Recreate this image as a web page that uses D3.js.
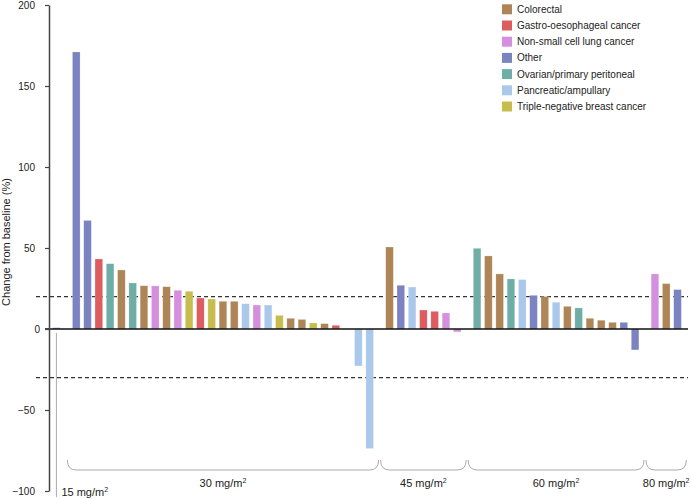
<!DOCTYPE html>
<html>
<head>
<meta charset="utf-8">
<script src="https://cdn.jsdelivr.net/npm/d3@7"></script>
<style>
  html, body { margin: 0; padding: 0; background: #fff; }
  svg { display: block; font-family: "Liberation Sans", Arial, Helvetica, sans-serif; }
</style>
</head>
<body>
<svg id="chart" width="691" height="499"></svg>
<script>
// ---------------- DATA ----------------
const categories = [
  "Colorectal",
  "Gastro-oesophageal cancer",
  "Non-small cell lung cancer",
  "Other",
  "Ovarian/primary peritoneal",
  "Pancreatic/ampullary",
  "Triple-negative breast cancer"
];
const categoryColors = ["#ae8556", "#dd5c5f", "#d48fdf", "#7b83c1", "#6faea7", "#aac9ea", "#c7bd4f"];

const doseLabels = ["15", "30", "45", "60", "80"];

const dose15Values = [0.8];
const dose15Cats   = ["Other"];

const dose30Values = [171, 67, 43.2, 40.3, 36.4, 28.4, 26.7, 26.6, 26.1, 23.9, 23.3, 19.1, 18.5, 17.1, 17.1, 15.6, 14.8, 14.8, 8.4, 6.6, 5.9, 3.7, 3.3, 2.3, 0, -22.8, -73.8];
const dose30Cats   = ["Other", "Other", "Gastro-oesophageal cancer", "Ovarian/primary peritoneal", "Colorectal",
  "Ovarian/primary peritoneal", "Colorectal", "Non-small cell lung cancer", "Colorectal", "Non-small cell lung cancer",
  "Triple-negative breast cancer", "Gastro-oesophageal cancer", "Triple-negative breast cancer", "Colorectal", "Colorectal",
  "Pancreatic/ampullary", "Non-small cell lung cancer", "Pancreatic/ampullary", "Triple-negative breast cancer", "Colorectal",
  "Colorectal", "Triple-negative breast cancer", "Colorectal", "Gastro-oesophageal cancer", "Other",
  "Pancreatic/ampullary", "Pancreatic/ampullary"];

const dose45Values = [50.6, 27, 25.9, 11.7, 10.9, 9.9, -1.8];
const dose45Cats   = ["Colorectal", "Other", "Pancreatic/ampullary", "Gastro-oesophageal cancer",
  "Gastro-oesophageal cancer", "Non-small cell lung cancer", "Non-small cell lung cancer"];

const dose60Values = [49.8, 45.1, 34, 30.9, 30.5, 20.8, 20, 16.5, 14, 13, 6.6, 5.4, 4.1, 4.1, -12.9];
const dose60Cats   = ["Ovarian/primary peritoneal", "Colorectal", "Colorectal", "Ovarian/primary peritoneal",
  "Pancreatic/ampullary", "Other", "Colorectal", "Pancreatic/ampullary", "Colorectal", "Ovarian/primary peritoneal",
  "Colorectal", "Colorectal", "Colorectal", "Other", "Other"];

const dose80Values = [34, 28, 24.3];
const dose80Cats   = ["Non-small cell lung cancer", "Colorectal", "Other"];

const yTicks = [-100, -50, 0, 50, 100, 150, 200];
const thresholdLines = [20, -30];
const yTitle = "Change from baseline (%)";

// ---------------- LAYOUT ----------------
const svg = d3.select("#chart");
const groupValues = [dose15Values, dose30Values, dose45Values, dose60Values, dose80Values];
const groupCats = [dose15Cats, dose30Cats, dose45Cats, dose60Cats, dose80Cats];

const slot = 11.285;       // px per bar slot
const gapExtra = 0.76;     // extra slots between dose groups
const x0 = 52.6;           // left of first bar
const barW = 7.6;

// build bar records
const bars = [];
let gi = 0;
groupValues.forEach((vals, g) => {
  vals.forEach((v, i) => {
    bars.push({ group: g, idx: i, pos: gi + g * gapExtra, value: v, cat: groupCats[g][i] });
    gi++;
  });
});
const maxPos = d3.max(bars, d => d.pos);

const x = d3.scaleLinear().domain([0, maxPos]).range([x0, x0 + maxPos * slot]);
const y = d3.scaleLinear().domain([-100, 200]).range([491, 5]);
const color = d3.scaleOrdinal().domain(categories).range(categoryColors);

const axisX = 49;
const lineEnd = 688;

// dashed threshold lines
svg.append("g").selectAll("line").data(thresholdLines).join("line")
  .attr("x1", 36).attr("x2", lineEnd)
  .attr("y1", d => y(d)).attr("y2", d => y(d))
  .attr("stroke", "#333").attr("stroke-width", 1.3)
  .attr("stroke-dasharray", "4,3");

// bars
svg.append("g").selectAll("rect").data(bars).join("rect")
  .attr("x", d => x(d.pos))
  .attr("width", barW)
  .attr("y", d => Math.min(y(d.value), y(0)))
  .attr("height", d => Math.abs(y(d.value) - y(0)))
  .attr("fill", d => color(d.cat))
  .attr("stroke", "#fff").attr("stroke-opacity", 0.35).attr("stroke-width", 0.6);

// zero line
svg.append("line")
  .attr("x1", 45).attr("x2", lineEnd)
  .attr("y1", y(0)).attr("y2", y(0))
  .attr("stroke", "#111").attr("stroke-width", 1.4);

// y axis
const yAxis = d3.axisLeft(y).tickValues(yTicks).tickSize(4).tickSizeOuter(0).tickPadding(10)
  .tickFormat(d => d < 0 ? "\u2212" + Math.abs(d) : String(d));
const ga = svg.append("g").attr("transform", `translate(${axisX},0)`).call(yAxis);
ga.select(".domain").attr("stroke", "#444").attr("stroke-width", 1.5);
ga.selectAll(".tick line").attr("stroke", "#444").attr("stroke-width", 1.2);
ga.selectAll(".tick text").attr("font-size", 10).attr("fill", "#222")
  .attr("font-family", "Liberation Sans, Arial, sans-serif")
  .attr("dx", d => d === 0 ? 5 : 0);

// y title
svg.append("text")
  .attr("transform", `translate(10,242) rotate(-90)`)
  .attr("text-anchor", "middle")
  .attr("font-size", 11).attr("fill", "#222")
  .text(yTitle);

// dose brackets
const groupExtent = groupValues.map((vals, g) => {
  const gb = bars.filter(b => b.group === g);
  return { g, left: x(gb[0].pos), right: x(gb[gb.length - 1].pos) + barW };
});
const bracketTop = 460, bracketBot = 470, r = 9;
const bg = svg.append("g");
for (let g = 1; g < groupExtent.length; g++) {
  const L = (groupExtent[g - 1].right + groupExtent[g].left) / 2 + 1;
  const R = g < groupExtent.length - 1
    ? (groupExtent[g].right + groupExtent[g + 1].left) / 2 - 1
    : groupExtent[g].right + 5;
  bg.append("path")
    .attr("d", `M${L},${bracketTop} Q${L},${bracketBot} ${L + r},${bracketBot} H${R - r} Q${R},${bracketBot} ${R},${bracketTop}`)
    .attr("fill", "none").attr("stroke", "#aaa").attr("stroke-width", 1);
  const t = bg.append("text")
    .attr("x", (L + R) / 2).attr("y", 487)
    .attr("text-anchor", "middle").attr("font-size", 11).attr("fill", "#222");
  t.append("tspan").text(doseLabels[g] + " mg/m");
  t.append("tspan").attr("font-size", 7).attr("dy", -4).text("2");
}
// 15 mg/m2 marker
{
  const cx = groupExtent[0].left + barW / 2;
  bg.append("line").attr("x1", cx).attr("x2", cx).attr("y1", 333).attr("y2", 497)
    .attr("stroke", "#aaa").attr("stroke-width", 1);
  const t = bg.append("text").attr("x", cx + 5).attr("y", 496)
    .attr("font-size", 11).attr("fill", "#222");
  t.append("tspan").text(doseLabels[0] + " mg/m");
  t.append("tspan").attr("font-size", 7).attr("dy", -4).text("2");
}

// legend
const lg = svg.append("g");
categories.forEach((c, i) => {
  const cy = 9.3 + i * 16.2;
  lg.append("rect").attr("x", 502).attr("y", cy - 5).attr("width", 10).attr("height", 10)
    .attr("fill", color(c));
  lg.append("text").attr("x", 517).attr("y", cy).attr("dy", "0.35em")
    .attr("font-size", 10).attr("fill", "#222").text(c);
});
</script>
</body>
</html>
